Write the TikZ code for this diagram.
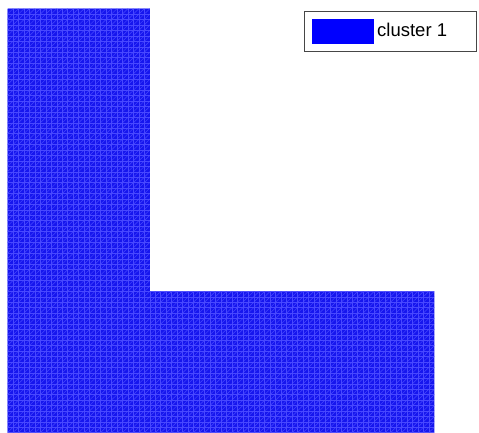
\documentclass[tikz,border=0pt]{standalone}
\usepackage{fontspec}
\setmainfont{Liberation Sans}
\definecolor{meshfill}{RGB}{22,22,238}
\definecolor{meshline}{RGB}{72,72,255}
\definecolor{legendframe}{RGB}{70,70,70}
\tikzset{
  meshedge/.style={draw=meshline, line width=0.45pt},
  legendbox/.style={draw=legendframe, line width=1pt, fill=white},
  legendpatch/.style={fill=blue, draw=none},
}
\begin{document}
\begin{tikzpicture}[x=1pt,y=1pt]
\useasboundingbox (0,0) rectangle (479,433);
\begin{scope}[shift={(7.5,0.3)}, x=5.472pt, y=5.436pt]
  \path[fill=meshfill] (0,0) -- (78,0) -- (78,26) -- (26,26) -- (26,78) -- (0,78) -- cycle;
  \begin{scope}
    \clip (0,0) -- (78,0) -- (78,26) -- (26,26) -- (26,78) -- (0,78) -- cycle;
    \foreach \k in {0,...,78} {
      \draw[meshedge] (\k,0) -- (\k,78);
      \draw[meshedge] (0,\k) -- (78,\k);
    }
    \foreach \k in {-78,...,78} {
      \draw[meshedge] (\k,0) -- ({\k+78},78);
    }
  \end{scope}
\end{scope}
\draw[legendbox] (304,381) rectangle (476.5,421);
\path[legendpatch] (312,389) rectangle (374,414);
\node[anchor=west, inner sep=0pt, font=\fontsize{18.5}{20}\selectfont] (lbl) at (377,403) {cluster 1};
\end{tikzpicture}
\end{document}
